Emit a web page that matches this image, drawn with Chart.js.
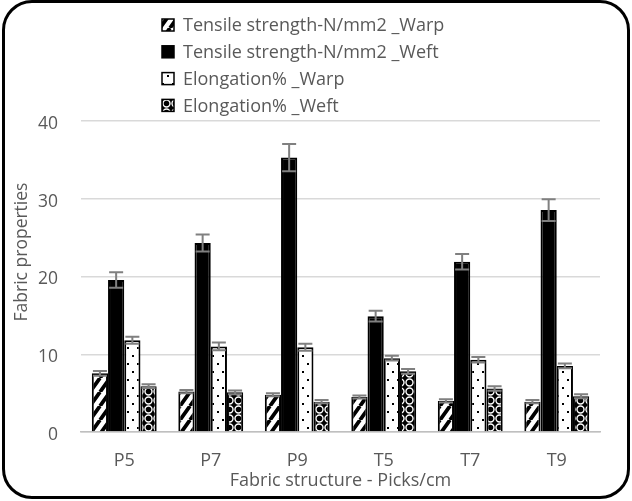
<!DOCTYPE html>
<html>
<head>
<meta charset="utf-8">
<script src="https://cdn.jsdelivr.net/npm/chart.js@4.4.1/dist/chart.umd.min.js"></script>
<style>
  html, body { margin: 0; padding: 0; background: #fff; }
  #wrap { position: relative; width: 632px; height: 501px; }
  #myChart { position: absolute; left: 0; top: 0; }
  #frame { position: absolute; left: 2px; top: 0; width: 628px; height: 499px; box-sizing: border-box;
           border: 3px solid #000; border-radius: 30px; pointer-events: none; }
</style>
</head>
<body>
<div id="wrap">
  <canvas id="myChart" width="632" height="501"></canvas>
  <div id="frame"></div>
</div>
<script>
  "use strict";

  // data
  const categories = ["P5", "P7", "P9", "T5", "T7", "T9"];
  const seriesNames = ["Tensile strength-N/mm2 _Warp", "Tensile strength-N/mm2 _Weft", "Elongation% _Warp", "Elongation% _Weft"];

  const tensileWarp = [7.55, 5.2, 4.8, 4.5, 4.0, 3.9];
  const tensileWeft = [19.55, 24.3, 35.3, 14.9, 21.9, 28.55];
  const elongationWarp = [11.8, 11.0, 10.9, 9.5, 9.3, 8.5];
  const elongationWeft = [5.9, 5.1, 3.9, 7.8, 5.6, 4.6];

  const tensileWarpErr = [0.3, 0.2, 0.2, 0.2, 0.2, 0.2];
  const tensileWeftErr = [1.0, 1.1, 1.75, 0.7, 1.0, 1.4];
  const elongationWarpErr = [0.45, 0.5, 0.45, 0.3, 0.35, 0.3];
  const elongationWeftErr = [0.25, 0.25, 0.2, 0.3, 0.3, 0.25];

  const yTicks = [0, 10, 20, 30, 40];
  const xTitle = "Fabric structure - Picks/cm";
  const yTitle = "Fabric properties";

  const FONT = "'Open Sans', sans-serif";
  const TEXT = "#595959";

  const ctx = document.getElementById("myChart").getContext("2d");

  // #region Patterns
  function makePattern(w, h, draw) {
    const c = document.createElement("canvas");
    c.width = w;
    c.height = h;
    draw(c.getContext("2d"), w, h);
    return ctx.createPattern(c, "repeat");
  }

  const hatch = makePattern(10, 14, (g, w, h) => {
    g.fillStyle = "#fff";
    g.fillRect(0, 0, w, h);
    g.strokeStyle = "#000";
    g.lineWidth = 3.8;
    g.beginPath();
    for (let k = -1; k <= 1; k++) {
      g.moveTo(k * w, h);
      g.lineTo(k * w + w, 0);
    }
    g.stroke();
  });

  const dots = makePattern(10, 16, (g, w, h) => {
    g.fillStyle = "#fff";
    g.fillRect(0, 0, w, h);
    g.fillStyle = "#000";
    g.fillRect(2, 3, 2, 2);
    g.fillRect(7, 11, 2, 2);
  });

  const rings = makePattern(9, 9, (g, w, h) => {
    g.fillStyle = "#000";
    g.fillRect(0, 0, w, h);
    g.strokeStyle = "#fff";
    g.lineWidth = 1.4;
    g.beginPath();
    g.arc(4.5, 4.5, 3.5, 0, Math.PI * 2);
    g.stroke();
  });
  // #endregion

  // #region Plugins
  const errorBars = {
    id: "errorBars",
    afterDatasetsDraw(chart) {
      const c = chart.ctx, yScale = chart.scales.y;
      c.save();
      c.strokeStyle = "#808080";
      c.lineWidth = 2;
      chart.data.datasets.forEach((ds, i) => {
        chart.getDatasetMeta(i).data.forEach((bar, j) => {
          const top = yScale.getPixelForValue(ds.data[j] + ds.errors[j]);
          const bottom = yScale.getPixelForValue(ds.data[j] - ds.errors[j]);
          c.beginPath();
          c.moveTo(bar.x, top);
          c.lineTo(bar.x, bottom);
          c.moveTo(bar.x - 7, top);
          c.lineTo(bar.x + 7, top);
          c.moveTo(bar.x - 7, bottom);
          c.lineTo(bar.x + 7, bottom);
          c.stroke();
        });
      });
      c.restore();
    }
  };

  const columnLegend = {
    id: "columnLegend",
    afterDraw(chart) {
      const c = chart.ctx;
      c.save();
      c.font = "18px " + FONT;
      c.textBaseline = "middle";
      chart.data.datasets.forEach((ds, i) => {
        const y = 25 + i * 26.8;
        c.fillStyle = ds.backgroundColor;
        c.fillRect(162, y - 6, 12, 12);
        c.strokeStyle = "#000";
        c.lineWidth = 1.5;
        c.strokeRect(162, y - 6, 12, 12);
        c.fillStyle = TEXT;
        c.fillText(ds.label, 183, y + 1);
      });
      // y axis title
      c.translate(22, 252);
      c.rotate(-Math.PI / 2);
      c.textAlign = "center";
      c.font = "17.5px " + FONT;
      c.fillText(yTitle, 0, 0);
      c.restore();
    }
  };
  // #endregion

  function dataset(label, data, errors, fill) {
    return {
      label: label,
      data: data,
      errors: errors,
      backgroundColor: fill,
      borderColor: "#000",
      borderWidth: 2
    };
  }

  Chart.defaults.font.family = FONT;
  Chart.defaults.color = TEXT;

  new Chart(ctx, {
    type: "bar",
    data: {
      labels: categories,
      datasets: [
        dataset(seriesNames[0], tensileWarp, tensileWarpErr, hatch),
        dataset(seriesNames[1], tensileWeft, tensileWeftErr, "#000"),
        dataset(seriesNames[2], elongationWarp, elongationWarpErr, dots),
        dataset(seriesNames[3], elongationWeft, elongationWeftErr, rings)
      ]
    },
    options: {
      responsive: false,
      animation: false,
      categoryPercentage: 0.75,
      barPercentage: 1.0,
      layout: { padding: { left: 4, right: 32, top: 121, bottom: 6 } },
      plugins: {
        legend: { display: false },
        tooltip: { enabled: false }
      },
      scales: {
        x: {
          grid: { display: false, drawTicks: false },
          border: { display: true, color: "#bfbfbf", width: 1.5 },
          ticks: { font: { size: 18 }, padding: 18 },
          title: { display: true, text: xTitle, font: { size: 18 }, padding: { top: 0, bottom: 3 } },
          afterFit: (scale) => { scale.height = 63; }
        },
        y: {
          min: 0,
          max: 40,
          afterBuildTicks: (scale) => { scale.ticks = yTicks.map(v => ({ value: v })); },
          grid: { color: "#d9d9d9", lineWidth: 1.5, drawTicks: false },
          border: { display: false },
          ticks: { font: { size: 17.5 }, padding: 23, labelOffset: 3 },
          afterFit: (scale) => { scale.width = 77; }
        }
      }
    },
    plugins: [errorBars, columnLegend]
  });
</script>
</body>
</html>
